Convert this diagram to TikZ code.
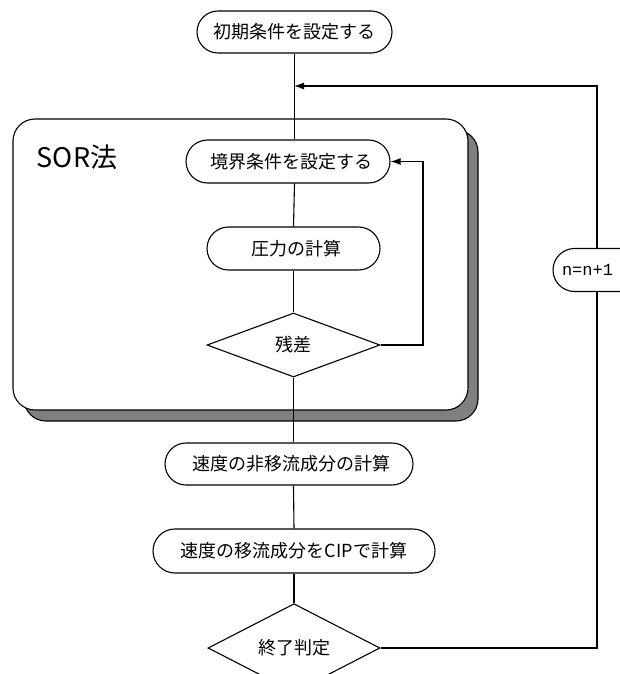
\documentclass[tikz,border=0pt]{standalone}
\usepackage{fontspec}
\setmainfont{Noto Sans CJK JP}
\newfontfamily\monofnt{Liberation Mono}
\usetikzlibrary{shapes.misc,shapes.geometric,arrows.meta}
\definecolor{shadowgray}{RGB}{128,128,128}
\begin{document}
\begin{tikzpicture}[x=1pt,y=-1pt,
  line width=1.1pt,
  every node/.style={font=\fontsize{18}{18}\selectfont},
  pill/.style={draw,rounded rectangle,inner sep=0pt,fill=white},
  dec/.style={draw,diamond,inner sep=0pt,fill=white},
  arr/.style={-{Latex[length=10pt,width=7pt]}},
]
\useasboundingbox (0,0) rectangle (619,674);
% SOR frame with shadow
\draw[fill=shadowgray, rounded corners=22pt] (24,130) rectangle (478,421);
\draw[fill=white, rounded corners=22pt] (13,119) rectangle (468,410);
\node[anchor=west,font=\fontsize{27}{27}\selectfont] (sor) at (33,157) {SOR法};

\node[pill,minimum width=195pt,minimum height=42pt] (start) at (294.5,32) {初期条件を設定する};
\node[pill,minimum width=204pt,minimum height=43pt] (bc) at (288,161.5) {\hspace{6pt}境界条件を設定する};
\node[pill,minimum width=173pt,minimum height=43pt] (press) at (293.5,248.5) {\hspace{6pt}圧力の計算};
\node[dec,minimum width=173pt,minimum height=64pt] (resid) at (293.5,345) {残差};
\node[pill,minimum width=248pt,minimum height=42pt] (v1) at (289,464) {\hspace{4pt}速度の非移流成分の計算};
\node[pill,minimum width=282pt,minimum height=44pt] (v2) at (294,551) {速度の移流成分をCIPで計算};
\node[dec,minimum width=172pt,minimum height=66pt] (fin) at (294,648) {終了判定};
\node[pill,minimum width=88pt,minimum height=43pt] (inc) at (597,270) {\hbox to 70pt{\monofnt\fontsize{17}{17}\selectfont n=n+1\hfil}};

\coordinate (join) at (294,86);
\coordinate (rloop) at (423,345);
\coordinate (oloop) at (597,648);

\draw (start.south) -- (start.south |- bc.north);
\draw (start.south |- bc.south) -- (press.north);
\draw (press.south) -- (resid.north);
\draw (resid.south) -- (resid.south |- v1.north);
\draw (resid.south |- v1.south) -- (v2.north);
\draw (v2.south) -- (fin.north);
\draw[arr] (resid.east) -- (rloop) |- (bc.east);
\draw (fin.east) -- (oloop) -- (inc.south);
\draw[arr] (inc.north) |- (join);
\end{tikzpicture}
\end{document}
